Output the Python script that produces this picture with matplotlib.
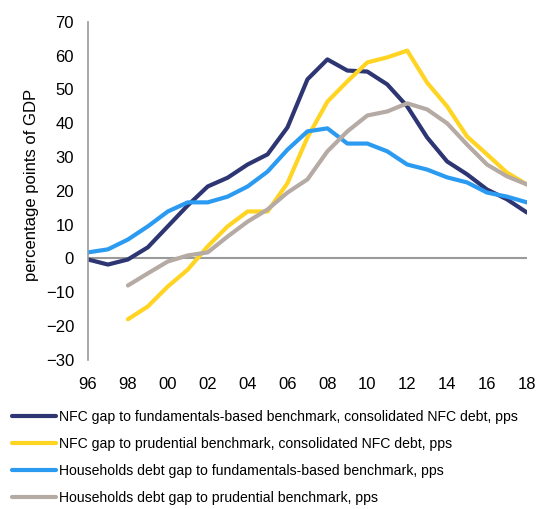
import matplotlib
matplotlib.use("Agg")
import matplotlib.pyplot as plt

plt.rcParams["font.family"] = ["Liberation Sans", "DejaVu Sans"]

years = list(range(1996, 2019))
years_short = list(range(1998, 2019))

nfc_fund = [-0.3, -1.8, -0.3, 3.3, 9.5, 15.7, 21.3, 23.9, 27.8, 30.8, 38.8, 53.0,
            58.9, 55.6, 55.3, 51.5, 45.0, 35.8, 28.7, 24.9, 20.4, 17.5, 13.6]
nfc_prud = [-18.0, -14.2, -8.3, -3.3, 3.6, 9.5, 13.9, 13.9, 22.3, 35.8,
            46.4, 52.4, 58.0, 59.5, 61.5, 52.0, 45.0, 36.1, 30.8, 25.4, 21.9]
hh_fund = [1.8, 2.7, 5.6, 9.5, 13.9, 16.6, 16.6, 18.3, 21.3, 25.7, 32.2, 37.6,
           38.5, 34.0, 34.0, 31.7, 27.8, 26.3, 24.0, 22.5, 19.5, 18.3, 16.6]
hh_prud = [-8.0, -4.4, -0.9, 0.9, 1.8, 6.5, 10.9, 14.5, 19.5, 23.4,
           31.7, 37.6, 42.3, 43.5, 45.9, 44.1, 40.0, 33.7, 27.8, 24.3, 21.9]

labels = [
    "NFC gap to fundamentals-based benchmark, consolidated NFC debt, pps",
    "NFC gap to prudential benchmark, consolidated NFC debt, pps",
    "Households debt gap to fundamentals-based benchmark, pps",
    "Households debt gap to prudential benchmark, pps",
]
colors = ["#2D3672", "#FFD422", "#2B9BF2", "#B5AAA4"]

fig = plt.figure(figsize=(5.5, 5.09), dpi=100)
ax = fig.add_axes([0.16, 0.293, 0.798, 0.664])

ax.axhline(0, color="#9a9a9a", lw=1.5, zorder=1)
ax.plot(years, nfc_fund, color=colors[0], lw=3, label=labels[0], solid_capstyle="round")
ax.plot(years_short, nfc_prud, color=colors[1], lw=3, label=labels[1], solid_capstyle="round")
ax.plot(years, hh_fund, color=colors[2], lw=3, label=labels[2], solid_capstyle="round")
ax.plot(years_short, hh_prud, color=colors[3], lw=3, label=labels[3], solid_capstyle="round")

ax.set_xlim(1996, 2018)
ax.set_ylim(-30, 70)
ax.set_yticks(range(-30, 71, 10))
xt = list(range(1996, 2019, 2))
ax.set_xticks(xt)
ax.set_xticklabels([f"{y % 100:02d}" for y in xt])
ax.tick_params(axis="both", length=0, labelsize=12)
ax.tick_params(axis="x", pad=12)
ax.tick_params(axis="y", pad=10)
for s in ["top", "right", "bottom"]:
    ax.spines[s].set_visible(False)
ax.spines["left"].set_color("#9a9a9a")
ax.spines["left"].set_linewidth(1.2)

fig.text(32 / 550, 1 - 185 / 509, "percentage points of GDP", rotation=90,
         ha="center", va="center", fontsize=12)

fig.legend(loc="upper left", bbox_to_anchor=(0.011, 0.206), frameon=False,
           prop={"size": 10.1}, handlelength=3.15,
           handletextpad=0.2, labelspacing=0.94, borderaxespad=0)

fig.savefig("out.png", dpi=100)
